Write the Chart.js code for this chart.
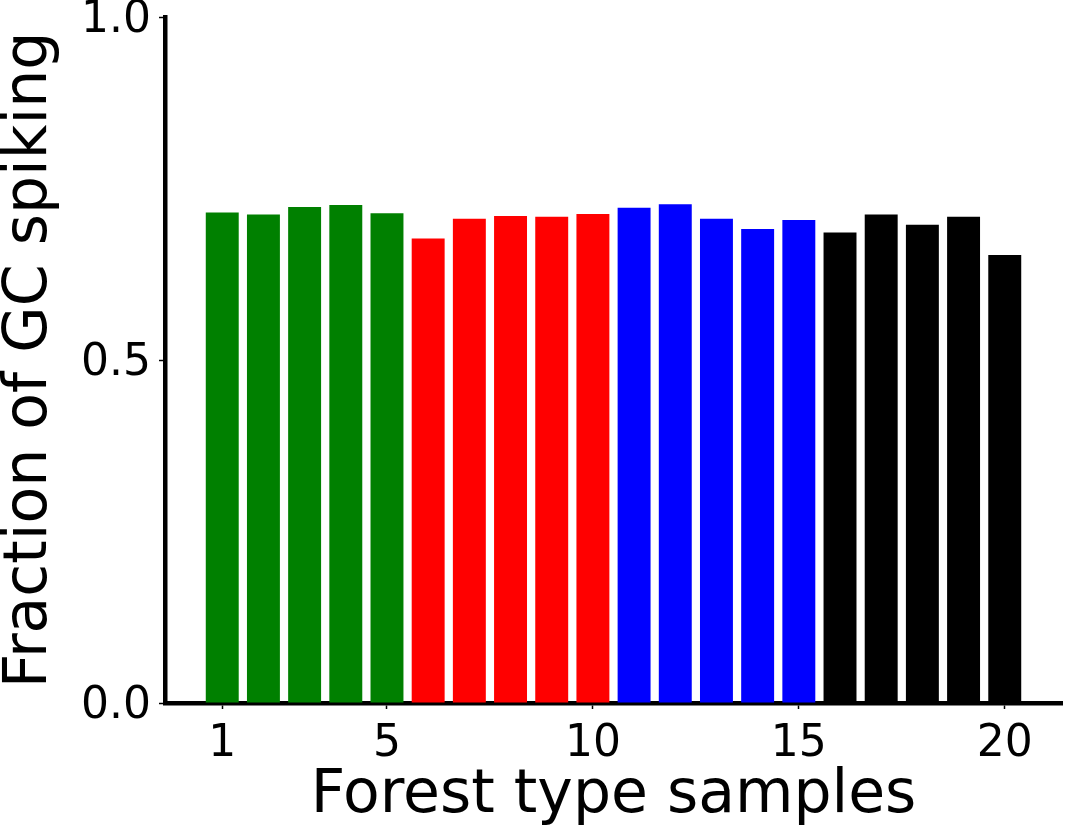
<!DOCTYPE html>
<html>
<head>
<meta charset="utf-8">
<script src="https://cdn.jsdelivr.net/npm/chart.js@4/dist/chart.umd.min.js"></script>
<style>
  body { margin: 0; background: #fff; }
  canvas { display: block; }
</style>
</head>
<body>
<canvas id="myChart" width="1066" height="830"></canvas>
<script>
const samples = [1, 2, 3, 4, 5, 6, 7, 8, 9, 10, 11, 12, 13, 14, 15, 16, 17, 18, 19, 20];
const fractions = [0.715, 0.712, 0.723, 0.726, 0.714, 0.677, 0.706, 0.710, 0.709, 0.713,
                   0.722, 0.727, 0.706, 0.691, 0.704, 0.686, 0.712, 0.697, 0.709, 0.653];
const groupColors = ['#008000', '#ff0000', '#0000ff', '#000000'];
const xTicks = [1, 5, 10, 15, 20];
const yTicks = [0, 0.5, 1.0];

const font = 'DejaVu Sans';
const barColors = samples.map((s, i) => groupColors[Math.floor(i / 5)]);

window.onload = () => {
  const ctx = document.getElementById('myChart');

  const chart = new Chart(ctx, {
    type: 'bar',
    data: {
      datasets: [{
        data: samples.map((s, i) => ({ x: s, y: fractions[i] })),
        backgroundColor: barColors,
        borderWidth: 0,
        barPercentage: 0.8,
        categoryPercentage: 1.0
      }]
    },
    options: {
      responsive: false,
      animation: false,
      layout: { padding: { left: 0, right: 4, top: 17, bottom: 0 } },
      plugins: { legend: { display: false }, tooltip: { enabled: false } },
      scales: {
        x: {
          type: 'linear',
          offset: false,
          min: -0.39,
          max: 21.39,
          afterBuildTicks: (scale) => { scale.ticks = xTicks.map(v => ({ value: v })); },
          afterFit: (scale) => { scale.height = 127; scale.paddingLeft = 0; scale.paddingRight = 0; },
          border: { display: true, color: '#000', width: 4.5 },
          grid: { offset: false, drawOnChartArea: false, drawTicks: true, tickLength: 6, tickWidth: 1.5, tickColor: '#000' },
          ticks: { color: '#000', padding: 9, maxRotation: 0, autoSkip: false, font: { family: font, size: 44 } },
          title: {
            display: true,
            text: 'Forest type samples',
            color: '#000',
            font: { family: font, size: 60, lineHeight: 1 },
            padding: { top: 0, bottom: 4 }
          }
        },
        y: {
          min: 0,
          max: 1,
          afterBuildTicks: (scale) => { scale.ticks = yTicks.map(v => ({ value: v })); },
          afterFit: (scale) => { scale.width = 165; scale.paddingTop = 0; scale.paddingBottom = 0; },
          border: { display: true, color: '#000', width: 4.5 },
          grid: { drawOnChartArea: false, drawTicks: true, tickLength: 6, tickWidth: 1.5, tickColor: '#000' },
          ticks: {
            color: '#000',
            padding: 8,
            labelOffset: 4,
            font: { family: font, size: 44 },
            callback: (v) => v.toFixed(1)
          },
          title: {
            display: true,
            text: 'Fraction of GC spiking',
            color: '#000',
            font: { family: font, size: 60, lineHeight: 1 },
            padding: { top: 0, bottom: 0 }
          }
        }
      }
    }
  });
};
</script>
</body>
</html>
